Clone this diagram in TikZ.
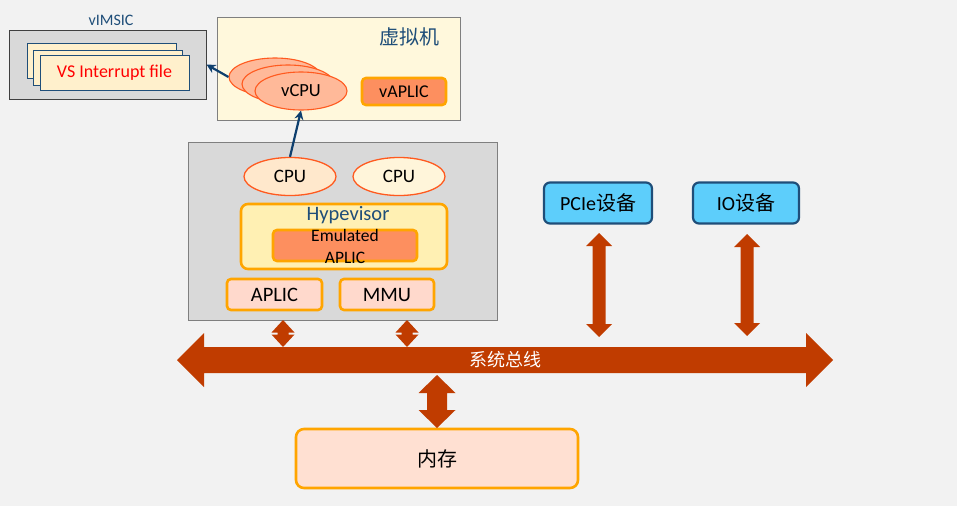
\documentclass[tikz,border=0pt]{standalone}
\usepackage{fontspec}
\setmainfont{Carlito}
\newfontfamily\cjk{Noto Sans CJK SC}
\usetikzlibrary{calc,arrows.meta,shapes.geometric}
\definecolor{bgc}{HTML}{F2F2F2}
\definecolor{grayf}{HTML}{D9D9D9}
\definecolor{grayd}{HTML}{7F7F7F}
\definecolor{dblue}{HTML}{1F4E79}
\definecolor{navy}{HTML}{0E3F6E}
\definecolor{lpeach}{HTML}{FFF0CC}
\definecolor{vmfill}{HTML}{FFF8DC}
\definecolor{vcpuf}{HTML}{FFB999}
\definecolor{ered}{HTML}{FF5A1F}
\definecolor{salmon}{HTML}{FD8F5F}
\definecolor{borange}{HTML}{FFA500}
\definecolor{cpuf}{HTML}{FFE8CC}
\definecolor{cpug}{HTML}{FFF5DA}
\definecolor{hypf}{HTML}{FFF0B3}
\definecolor{pinkf}{HTML}{FFD9CC}
\definecolor{memf}{HTML}{FFE0D2}
\definecolor{skyb}{HTML}{5DCEFB}
\definecolor{busc}{HTML}{C03C00}
\newcommand\fsz[1]{\fontsize{#1}{#1}\selectfont}
\newcommand\vdarrow[5]{%
  \fill[busc] (#1) -- ($(#1)+(#4,#5)$) -- ($(#1)+(#3,#5)$) -- ($(#2)+(#3,-#5)$) -- ($(#2)+(#4,-#5)$) -- (#2)
   -- ($(#2)+(-#4,-#5)$) -- ($(#2)+(-#3,-#5)$) -- ($(#1)+(-#3,#5)$) -- ($(#1)+(-#4,#5)$) -- cycle;}
\tikzset{
  graybox/.style={draw=grayd, fill=grayf, line width=1pt, inner sep=0pt},
  stackrect/.style={draw=dblue, fill=lpeach, line width=1pt, minimum width=149pt, minimum height=35pt, inner sep=0pt},
  vell/.style={ellipse, draw=ered, fill=vcpuf, line width=1.1pt, inner sep=0pt, minimum width=92pt, minimum height=38pt},
  cpuell/.style={ellipse, draw=ered, line width=1.3pt, inner sep=0pt, minimum width=92pt, minimum height=38pt},
  obox/.style={draw=borange, line width=2.6pt, rounded corners=4pt, inner sep=0pt},
  devbox/.style={draw=dblue, fill=skyb, line width=2.2pt, rounded corners=6pt, inner sep=0pt, minimum width=106pt, minimum height=41pt, font=\fsz{20}},
  barrow/.style={-{Stealth[length=9pt,width=9pt]}, line width=2.2pt, draw=navy},
}
\begin{document}
\begin{tikzpicture}[x=1pt,y=-1pt]
\useasboundingbox (0,0) rectangle (957,506);
\fill[bgc] (0,0) rectangle (957,506);

% vIMSIC
\node[text=dblue, font=\fsz{16}] (vimsiclbl) at (111,20) {vIMSIC};
\node[graybox, draw=black!75, minimum width=197pt, minimum height=69pt] (vimsic) at (107.5,64.5) {};
\node[stackrect] (s1) at (101.5,60.5) {};
\node[stackrect] (s2) at (107.5,67.5) {};
\node[stackrect, text=red, font=\fsz{18}] (s3) at (114.5,73) {VS Interrupt file};

% VM
\node[draw=grayd, fill=vmfill, line width=1pt, minimum width=243pt, minimum height=103pt, inner sep=0pt] (vm) at (338.5,68.5) {};
\node[text=dblue, font=\cjk\fsz{20}] (vmlbl) at (409,37) {虚拟机};
\node[vell] (v1) at (275,77) {};
\node[vell] (v2) at (288,84) {};
\node[vell, font=\fsz{18.5}] (v3) at (301,91) {vCPU};
\node[obox, fill=salmon, minimum width=84pt, minimum height=27pt, font=\fsz{18}] (vaplic) at (404,91.5) {vAPLIC};

% Host
\node[graybox, minimum width=309pt, minimum height=178pt] (host) at (342.5,231) {};
\node[cpuell, fill=cpuf, font=\fsz{19}] (cpu1) at (290,176.5) {CPU};
\node[cpuell, fill=cpug, font=\fsz{19}] (cpu2) at (399,176.5) {CPU};
\node[obox, fill=hypf, rounded corners=7pt, minimum width=206pt, minimum height=65pt] (hyp) at (344,236.5) {};
\node[text=dblue, font=\fsz{20.5}] (hyplbl) at (348,215) {Hypevisor};
\node[obox, fill=salmon, minimum width=144pt, minimum height=31pt] (emu) at (345,245.5) {};
\node[align=center, font=\fontsize{17.5}{22}\selectfont] (emulbl) at (345,246) {Emulated\\APLIC};
\node[obox, fill=pinkf, minimum width=95pt, minimum height=31pt, font=\fsz{20.5}] (aplic) at (274.5,294.5) {APLIC};
\node[obox, fill=pinkf, minimum width=94pt, minimum height=31pt, font=\fsz{20.5}] (mmu) at (387,294.5) {MMU};

% devices
\node[devbox, minimum width=108pt] (pcie) at (598,203) {PCIe{\cjk 设备}};
\node[devbox] (io) at (746,203) {IO{\cjk 设备}};

% memory
\node[obox, fill=memf, rounded corners=8pt, minimum width=282pt, minimum height=59pt, font=\cjk\fsz{20}] (mem) at (437,458.5) {内存};

% bus
\coordinate (busL) at (177,360);
\coordinate (busR) at (833,360);
\fill[busc] (busL) -- ($(busL)+(27,-27)$) -- ($(busL)+(27,-13)$) -- ($(busR)+(-27,-13)$) -- ($(busR)+(-27,-27)$) -- (busR)
  -- ($(busR)+(-27,27)$) -- ($(busR)+(-27,13)$) -- ($(busL)+(27,13)$) -- ($(busL)+(27,27)$) -- cycle;
\node[text=white, font=\cjk\fsz{18}] (bus) at (505,360) {系统总线};

% vertical block arrows
\coordinate (pt) at (599,233); \coordinate (pb) at (599,337);
\coordinate (it) at (747,234); \coordinate (ib) at (747,336);
\coordinate (at) at (283,320); \coordinate (ab) at (283,347);
\coordinate (mt) at (407,320); \coordinate (mb) at (407,347);
\coordinate (memt) at (437,375); \coordinate (memb) at (437,428);
\vdarrow{pt}{pb}{6.5}{13}{13}
\vdarrow{it}{ib}{6.5}{13}{13}
\vdarrow{at}{ab}{5.5}{11.5}{12.5}
\vdarrow{mt}{mb}{5.5}{11.5}{12.5}
\vdarrow{memt}{memb}{10}{18.5}{18}

% blue arrows
\draw[barrow] (v1.west) -- (vimsic.east);
\draw[barrow] (cpu1.north) -- (v3.south);
\end{tikzpicture}
\end{document}
